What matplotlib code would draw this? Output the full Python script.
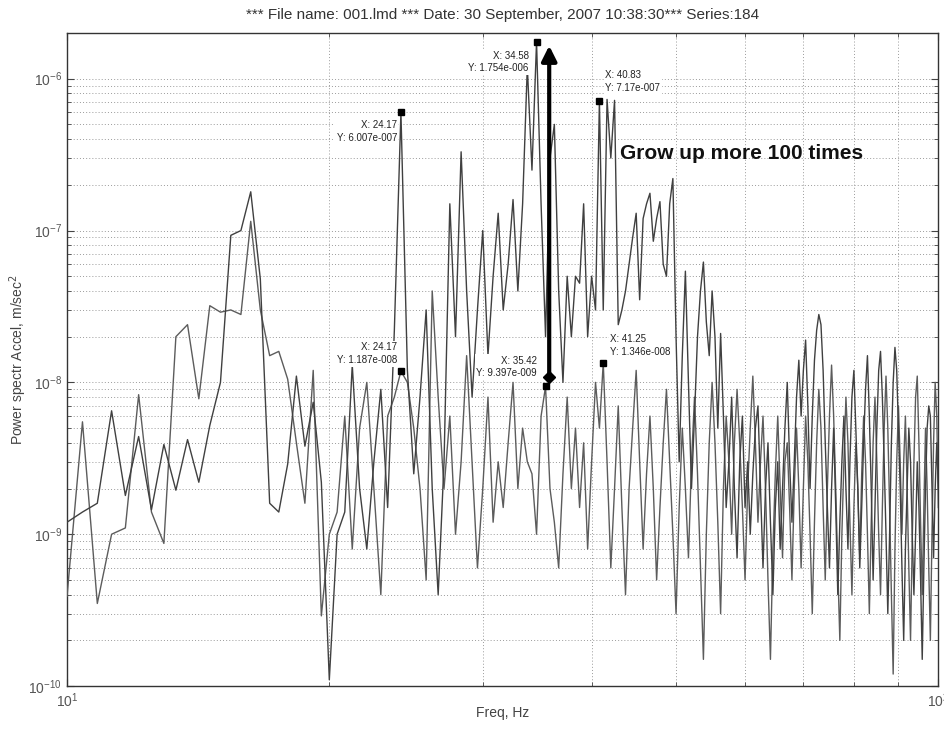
import numpy as np
import matplotlib
matplotlib.use("Agg")
import matplotlib.pyplot as plt
from matplotlib.ticker import LogLocator, NullFormatter, FixedLocator

# FFT bins 24..240 at 5/12 Hz resolution -> 10 Hz .. 100 Hz
bin_index = np.arange(24, 241)
freq = bin_index * 5.0 / 12.0

# Earlier record (lower spectrum)
psd_before = [
    3.9e-10, 5.5e-9, 3.5e-10, 1.0e-9, 1.1e-9, 8.3e-9, 1.4e-9, 8.7e-10, 2.0e-8, 2.4e-8,
    7.8e-9, 3.2e-8, 2.9e-8, 3.0e-8, 2.8e-8, 1.15e-7, 3.0e-8, 1.5e-8, 1.6e-8, 1.05e-8,
    4.0e-9, 1.6e-9, 1.2e-8, 2.9e-10, 1.0e-9, 1.4e-9, 6.0e-9, 8.0e-10, 5.0e-9, 1.0e-8,
    2.0e-9, 4.0e-10, 6.0e-9, 8.0e-9, 1.187e-8, 1.0e-8, 5.0e-9, 2.0e-9, 5.0e-10, 4.0e-8,
    8.0e-9, 2.0e-9, 6.0e-9, 1.0e-9, 3.0e-9, 1.5e-8, 3.0e-9, 6.0e-10, 2.0e-9, 8.0e-9,
    1.2e-9, 3.0e-9, 1.5e-9, 4.0e-9, 1.0e-8, 2.0e-9, 5.0e-9, 3.0e-9, 2.5e-9, 1.0e-9,
    6.0e-9, 9.397e-9, 2.0e-9, 1.2e-9, 6.0e-10, 2.5e-9, 8.0e-9, 2.0e-9, 5.0e-9, 1.5e-9,
    4.0e-9, 8.0e-10, 3.0e-9, 1.0e-8, 5.0e-9, 1.346e-8,
    3e-9, 6e-10, 2e-9, 7e-9, 1.5e-9, 4e-10, 2e-9, 5e-9, 1.2e-8, 3e-9, 8e-10,
    2.5e-9, 6e-9, 2e-9, 5e-10, 1.5e-9, 4e-9, 9e-9, 3e-9, 1e-9, 3e-10,
    1.5e-9, 5e-9, 2e-9, 7e-10, 3e-9, 8e-9, 2.5e-9, 6e-10, 1.5e-10, 1e-9,
    4e-9, 1.0e-8, 4e-9, 1.2e-9, 3e-10, 2e-9, 6e-9, 3e-9, 1e-9, 4e-9,
    9e-9, 4e-9, 1.5e-9, 5e-10, 2e-9, 5e-9, 1.1e-8, 4e-9, 1.2e-9, 3e-9,
    6e-9, 2e-9, 5e-10, 1.5e-10, 8e-10, 2.5e-9, 6e-9, 2e-9, 7e-10, 3e-9,
    4e-9, 1.5e-9, 5e-10, 2e-9, 5e-9, 2e-9, 6e-10, 2e-9, 6e-9, 3e-9,
    1e-9, 3e-10, 1.2e-9, 4e-9, 9e-9, 5e-9, 1.5e-9, 5e-10, 2e-9, 6e-9,
    1.3e-8, 6e-9, 2e-9, 6e-10, 2e-10, 1e-9, 3e-9, 8e-9, 4e-9, 1.2e-9,
    4e-10, 1.5e-9, 4e-9, 2e-9, 7e-10, 2.5e-9, 6e-9, 3e-9, 1e-9, 3e-10,
    1.2e-9, 4e-9, 8e-9, 3e-9, 1e-9, 4e-10, 1.5e-9, 5e-9, 1.1e-8, 5e-9,
    1.5e-9, 4e-10, 1.2e-10, 8e-10, 3e-9, 7e-9, 3e-9, 1e-9, 3e-9, 6e-9,
    2e-9, 6e-10, 2e-10, 9e-10, 3e-9, 8e-9, 1.1e-8, 4e-9, 1.2e-9, 4e-10,
    1.5e-9, 5e-9, 2e-9, 6e-10, 2e-10, 1e-9, 4e-9, 1e-8, 6e-9, 1.5e-9,
]

# Later record (spectrum with grown peaks)
psd_after = [
    1.2e-9, 1.4e-9, 1.6e-9, 6.5e-9, 1.8e-9, 4.4e-9, 1.45e-9, 3.9e-9, 1.95e-9, 4.2e-9,
    2.2e-9, 5.2e-9, 1.0e-8, 9.3e-8, 1.0e-7, 1.8e-7, 4.8e-8, 1.6e-9, 1.4e-9, 2.9e-9,
    1.1e-8, 3.8e-9, 7.4e-9, 2.2e-9, 1.1e-10, 1.0e-9, 1.4e-9, 1.3e-8, 2.0e-9, 8.0e-10,
    3.0e-9, 9.0e-9, 1.5e-9, 2.2e-8, 6.007e-7, 1.2e-8, 2.5e-9, 8.0e-9, 3.0e-8, 2.0e-9,
    4.0e-10, 3.0e-9, 1.5e-7, 2.0e-8, 3.3e-7, 4.0e-8, 8.0e-9, 3.0e-8, 1.0e-7, 1.5e-8,
    5.0e-8, 1.3e-7, 3.0e-8, 6.0e-8, 1.6e-7, 4.0e-8, 1.5e-7, 1.2e-6, 2.5e-7, 1.754e-6,
    1.5e-7, 2.0e-8, 3.0e-7, 5.0e-7, 4.0e-8, 1.0e-8, 5.0e-8, 2.0e-8, 5.0e-8, 4.5e-8,
    1.5e-7, 2.0e-8, 5.0e-8, 3.0e-8, 7.17e-7, 3.0e-8,
    7.3e-7, 3.0e-7, 7.2e-7, 2.4e-8, 3.0e-8, 4.0e-8, 6.0e-8, 9.0e-8, 1.3e-7, 3.5e-8, 1.2e-7,
    1.5e-7, 1.76e-7, 8.5e-8, 1.2e-7, 1.55e-7, 6.0e-8, 5.0e-8, 1.5e-7, 2.2e-7, 2.0e-8,
    3e-9, 1.5e-8, 5.4e-8, 1.0e-8, 2e-9, 6e-9, 2e-8, 4e-8, 6.2e-8, 2.5e-8,
    1.5e-8, 4e-8, 2e-8, 5e-9, 2.1e-8, 6e-9, 1.5e-9, 3e-9, 8e-9, 2e-9,
    7e-10, 3e-9, 6e-9, 1.5e-9, 3e-9, 1e-9, 2.5e-9, 5e-9, 7e-9, 2e-9,
    6e-10, 2e-9, 4e-9, 1.2e-9, 4e-10, 1.5e-9, 3e-9, 8e-10, 2e-9, 5e-9,
    1.0e-8, 3e-9, 1.2e-9, 3e-9, 8e-9, 1.4e-8, 6e-9, 1.2e-8, 1.9e-8, 7e-9,
    2e-9, 6e-9, 1.4e-8, 2.2e-8, 2.8e-8, 2.4e-8, 1.2e-8, 4e-9, 1.5e-9, 6e-10,
    2e-9, 5e-9, 1.5e-9, 4e-10, 1.2e-9, 3e-9, 6e-9, 2e-9, 8e-10, 3e-9,
    8e-9, 1.2e-8, 5e-9, 2e-9, 6e-10, 1.5e-9, 4e-9, 9e-9, 1.5e-8, 6e-9,
    2e-9, 5e-10, 1.5e-9, 5e-9, 1.2e-8, 1.6e-8, 8e-9, 3e-9, 1e-9, 3e-10,
    1e-9, 4e-9, 1.0e-8, 1.7e-8, 1.2e-8, 5e-9, 2e-9, 6e-10, 2e-10, 8e-10,
    2e-9, 5e-9, 3e-9, 1e-9, 4e-10, 1e-9, 3e-9, 1.5e-9, 5e-10, 1.5e-10,
    6e-10, 2e-9, 5e-9, 7e-9, 6e-9, 2e-9, 7e-10, 2e-9, 4e-9, 2e-9,
]

# Data tips: (frequency, value, label lines, offset in pixels, alignment)
tip_freq = [24.17, 34.58, 40.83, 24.17, 35.42, 41.25]
tip_value = [6.007e-7, 1.754e-6, 7.17e-7, 1.187e-8, 9.397e-9, 1.346e-8]
tip_text = ["X: 24.17\nY: 6.007e-007", "X: 34.58\nY: 1.754e-006",
            "X: 40.83\nY: 7.17e-007", "X: 24.17\nY: 1.187e-008",
            "X: 35.42\nY: 9.397e-009", "X: 41.25\nY: 1.346e-008"]
tip_offset = [(-4, -8), (-8, -9), (6, 8), (-4, 6), (-9, 8), (7, 6)]
tip_align = [("right", "top"), ("right", "top"), ("left", "bottom"),
             ("right", "bottom"), ("right", "bottom"), ("left", "bottom")]

title = "*** File name: 001.lmd *** Date: 30 September, 2007 10:38:30*** Series:184"

plt.rcParams["font.family"] = ["Liberation Sans", "DejaVu Sans"]

fig = plt.figure(figsize=(9.44, 7.33), dpi=100)
ax = fig.add_axes([0.071, 0.064, 0.923, 0.891])

ax.plot(freq, psd_before, color="#5c5c5c", lw=1.0, zorder=3)
ax.plot(freq, psd_after, color="#404040", lw=1.0, zorder=3)

ax.set_xscale("log")
ax.set_yscale("log")
ax.set_xlim(10, 100)
ax.set_ylim(1e-10, 2e-6)

ax.xaxis.set_major_locator(FixedLocator([10, 100]))
ax.xaxis.set_minor_locator(LogLocator(base=10, subs=np.arange(2, 10)))
ax.xaxis.set_minor_formatter(NullFormatter())
ax.yaxis.set_major_locator(LogLocator(base=10, numticks=20))
ax.yaxis.set_minor_locator(LogLocator(base=10, subs=np.arange(2, 10), numticks=20))
ax.yaxis.set_minor_formatter(NullFormatter())

grid_style = dict(color="#9a9a9a", linestyle=(0, (1, 2.2)), linewidth=0.7)
ax.grid(True, which="major", **grid_style)
ax.grid(True, which="minor", **grid_style)
ax.set_axisbelow(True)

ax.tick_params(which="both", direction="in", top=True, right=True,
               labelsize=10, labelcolor="#555555", color="#444444")
ax.tick_params(which="major", length=5)
ax.tick_params(which="minor", length=3)
for s in ax.spines.values():
    s.set_color("#333333")
    s.set_linewidth(1.0)

ax.set_title(title, fontsize=11, color="#333333", pad=10)
ax.set_xlabel("Freq, Hz", fontsize=10, color="#444444", va="center")
ax.xaxis.set_label_coords(0.5, -0.041)
ax.set_ylabel("Power spectr Accel, m/sec$^2$", fontsize=10, color="#444444", va="center")
ax.yaxis.set_label_coords(-0.056, 0.5)

# data tips
for f, v, t, off, (ha, va) in zip(tip_freq, tip_value, tip_text, tip_offset, tip_align):
    ax.plot([f], [v], marker="s", ms=5, color="black", zorder=6)
    ax.annotate(t, xy=(f, v), xytext=off, textcoords="offset pixels",
                ha=ha, va=va, multialignment=ha, fontsize=7, color="#222222",
                linespacing=1.35, zorder=5,
                bbox=dict(boxstyle="square,pad=0.15", fc="white", ec="none"))

# growth arrow
arrow_f = 35.76
arrow_low, arrow_high = 1.08e-8, 1.65e-6
ax.annotate("", xy=(arrow_f, arrow_high), xytext=(arrow_f, arrow_low),
            arrowprops=dict(arrowstyle="-|>,head_length=0.9,head_width=0.45",
                            lw=3, color="black", shrinkA=0, shrinkB=0), zorder=7)
ax.plot([arrow_f], [arrow_low], marker="D", ms=6, color="black", zorder=8)

ax.text(43.1, 3.2e-7, "Grow up more 100 times", fontsize=15, fontweight="bold",
        color="#111111", ha="left", va="center", zorder=7)

fig.savefig("out.png", dpi=100)
